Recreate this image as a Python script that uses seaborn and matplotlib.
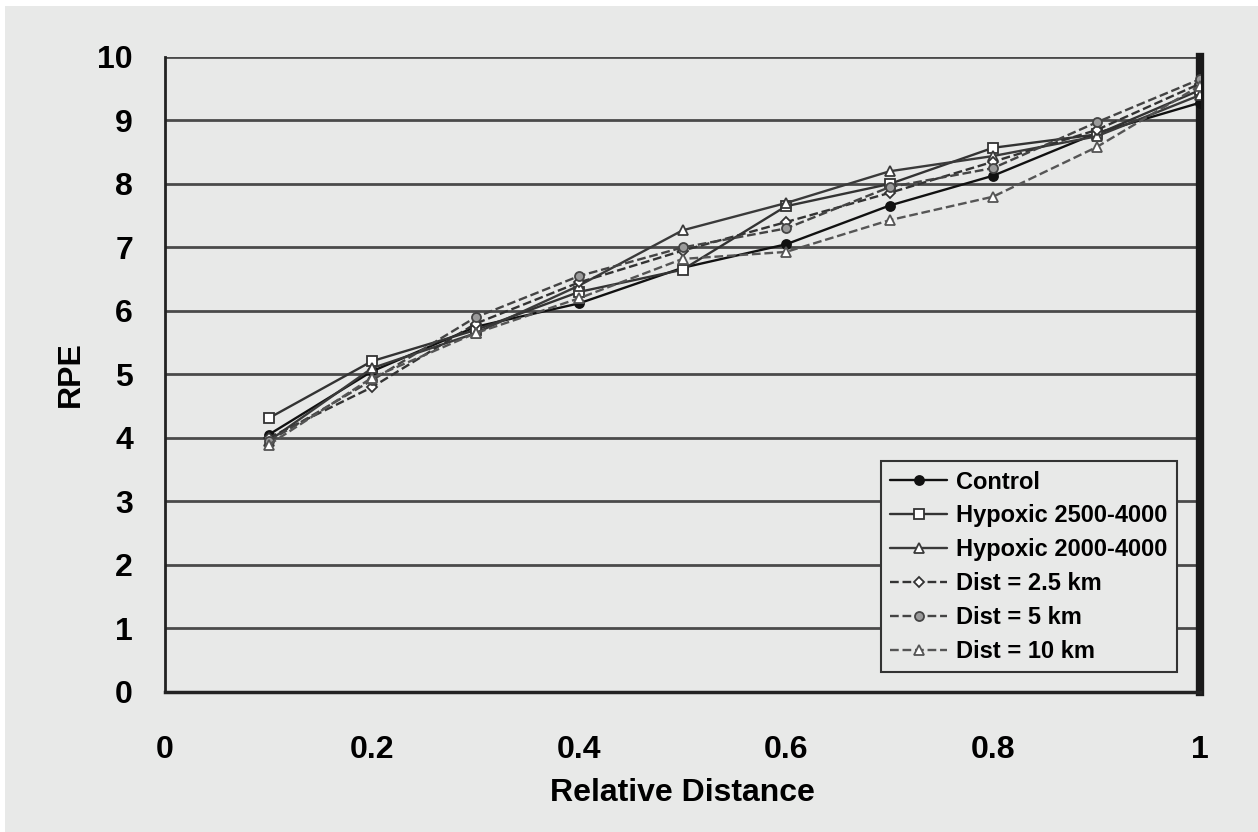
import pandas as pd
import matplotlib.pyplot as plt
import seaborn as sns
from matplotlib.patches import Rectangle

# Values
rel_dist = [0.1, 0.2, 0.3, 0.4, 0.5, 0.6, 0.7, 0.8, 0.9, 1.0]
control = [4.05, 5.05, 5.75, 6.12, 6.68, 7.05, 7.66, 8.13, 8.80, 9.28]
hyp_2500 = [4.31, 5.21, 5.70, 6.30, 6.65, 7.65, 8.00, 8.57, 8.78, 9.48]
hyp_2000 = [3.95, 5.10, 5.65, 6.40, 7.27, 7.70, 8.20, 8.44, 8.75, 9.40]
dist_25 = [4.00, 4.80, 5.80, 6.45, 6.95, 7.40, 7.86, 8.35, 8.85, 9.58]
dist_5 = [3.95, 4.91, 5.90, 6.55, 7.00, 7.30, 7.95, 8.25, 8.97, 9.65]
dist_10 = [3.89, 4.95, 5.65, 6.20, 6.82, 6.93, 7.43, 7.80, 8.58, 9.55]

series = {
    "Control": control,
    "Hypoxic 2500-4000": hyp_2500,
    "Hypoxic 2000-4000": hyp_2000,
    "Dist = 2.5 km": dist_25,
    "Dist = 5 km": dist_5,
    "Dist = 10 km": dist_10,
}

# line style, marker, line colour, marker face colour
styles = {
    "Control": ("-", "o", "#111111", "#111111"),
    "Hypoxic 2500-4000": ("-", "s", "#333333", "white"),
    "Hypoxic 2000-4000": ("-", "^", "#3a3a3a", "white"),
    "Dist = 2.5 km": ("--", "D", "#333333", "white"),
    "Dist = 5 km": ("--", "o", "#444444", "#9a9a9a"),
    "Dist = 10 km": ("--", "^", "#555555", "white"),
}

bg = "#e8e9e8"
sns.set_style("white")
plt.rcParams["font.family"] = ["Liberation Sans", "DejaVu Sans"]
plt.rcParams["font.weight"] = "bold"
plt.rcParams["text.color"] = "black"
plt.rcParams["axes.labelcolor"] = "black"
plt.rcParams["xtick.color"] = "black"
plt.rcParams["ytick.color"] = "black"

fig = plt.figure(figsize=(12.58, 8.32), dpi=100, facecolor=bg)
ax = fig.add_axes([0.1312, 0.1683, 0.8227, 0.7632])
ax.set_facecolor(bg)

# white strips at top and left of the scanned figure
fig.patches.append(Rectangle((0, 0.993), 1, 0.01, transform=fig.transFigure,
                             facecolor="white", edgecolor="none", zorder=0))
fig.patches.append(Rectangle((0, 0), 0.004, 1, transform=fig.transFigure,
                             facecolor="white", edgecolor="none", zorder=0))

for y in range(0, 11):
    ax.axhline(y, color="#4a4a4a", lw=2, zorder=1)

for name, vals in series.items():
    ls, mk, col, mfc = styles[name]
    ms = 5 if mk == "D" else 6.5
    sns.lineplot(x=rel_dist, y=vals, ax=ax, color=col, linestyle=ls, lw=1.7,
                 marker=mk, markersize=ms, markerfacecolor=mfc,
                 markeredgecolor=col, markeredgewidth=1.3, label=name,
                 zorder=3, dashes=False if ls == "-" else (4, 3))

ax.set_xlim(0, 1)
ax.set_ylim(0, 10)
ax.set_xticks([0, 0.2, 0.4, 0.6, 0.8, 1])
ax.set_xticklabels(["0", "0.2", "0.4", "0.6", "0.8", "1"])
ax.set_yticks(range(0, 11))
ax.tick_params(axis="both", labelsize=23, direction="out", length=9,
               width=2, color="#222222", labelcolor="black")
ax.tick_params(axis="x", pad=22)
ax.tick_params(axis="y", pad=14)
for lab in ax.get_xticklabels() + ax.get_yticklabels():
    lab.set_fontweight("bold")

ax.spines["top"].set_visible(False)
ax.spines["left"].set_color("#222222")
ax.spines["left"].set_linewidth(2)
ax.spines["bottom"].set_color("#222222")
ax.spines["bottom"].set_linewidth(2.5)
ax.spines["right"].set_color("#1a1a1a")
ax.spines["right"].set_linewidth(6)

ax.set_xlabel("Relative Distance", fontsize=23, fontweight="bold", labelpad=9)
ax.set_ylabel("RPE", fontsize=23, fontweight="bold", labelpad=8)

leg = ax.legend(loc="lower right", bbox_to_anchor=(0.978, 0.031), fontsize=17,
                frameon=True, fancybox=False, handlelength=2.4,
                borderpad=0.4, labelspacing=0.46, handletextpad=0.4,
                borderaxespad=0)
leg.get_frame().set_facecolor(bg)
leg.get_frame().set_edgecolor("#333333")
leg.get_frame().set_linewidth(1.5)
leg.get_frame().set_alpha(1)
for t in leg.get_texts():
    t.set_fontweight("bold")
    t.set_color("black")

plt.savefig("out.png", dpi=100, facecolor=bg)
